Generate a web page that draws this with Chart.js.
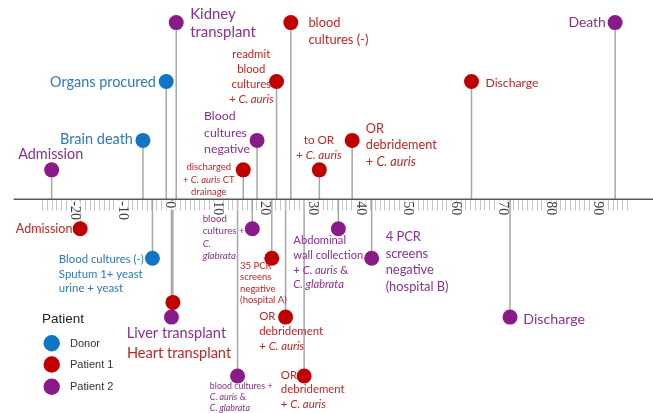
<!DOCTYPE html>
<html><head><meta charset="utf-8">
<script src="https://cdn.jsdelivr.net/npm/chart.js@4.4.1/dist/chart.umd.min.js"></script>
<style>html,body{margin:0;padding:0;background:#fff;overflow:hidden}</style>
</head><body>
<canvas id="c" width="653" height="413"></canvas>
<script>
// ---------- DATA ----------
const seriesNames = ["Donor", "Patient 1", "Patient 2"];
const legendTitle = "Patient";

const donorDays   = [-5.8, -0.9, -3.8];
const donorLevels = [2, 4, -2];
const donorEvents = [
  "Brain death",
  "Organs procured",
  "Blood cultures (-)\nSputum 1+ yeast\nurine + yeast"
];

const p1Days   = [-19, 0.5, 15.3, 22.3, 25.3, 31.3, 38.2, 63.3, 21.3, 24.2, 28.1];
const p1Levels = [-1, -3.5, 1, 4, 6, 1, 2, 4, -2, -4, -6];
const p1Events = [
  "Admission",
  "Heart transplant",
  "discharged\n+ *C. auris* CT\ndrainage",
  "readmit\nblood\ncultures\n+ *C. auris*",
  "blood\ncultures (-)",
  "to OR\n+ *C. auris*",
  "OR\ndebridement\n+ *C. auris*",
  "Discharge",
  "35 PCR\nscreens\nnegative\n(hospital A)",
  "OR\ndebridement\n+ *C. auris*",
  "OR\ndebridement\n+ *C. auris*"
];

const p2Days   = [-25, 1.2, 18.2, 93.5, 0.2, 17.2, 14.1, 35.3, 42.3, 71.4];
const p2Levels = [1, 6, 2, 6, -4, -1, -6, -1, -2, -4];
const p2Events = [
  "Admission",
  "Kidney\ntransplant",
  "Blood\ncultures\nnegative",
  "Death",
  "Liver transplant",
  "blood\ncultures +\n*C.*\n*glabrata*",
  "blood cultures +\n*C. auris* &\n*C. glabrata*",
  "Abdominal\nwall collection\n+ *C. auris* &\n*C. glabrata*",
  "4 PCR\nscreens\nnegative\n(hospital B)",
  "Discharge"
];

const tickLabels = [-20, -10, 0, 10, 20, 30, 40, 50, 60, 70, 80, 90];
const minorTickRange = [-27, 96];

// ---------- STYLE / LAYOUT (not data) ----------
const markerColors = ["#0F75C4", "#C00000", "#8B1A89"];
const textColors   = ["#2F78BA", "#C02525", "#8A3090"];
const FONT = "Lato, 'Open Sans', sans-serif";
// label placement relative to marker: a=align, dx/dy px offset of first line, lh=line height, w=widest line width
const labelLayout = [
  [ {a:'r',dx:-10,dy:-1.5,lh:15,w:73},
    {a:'r',dx:-10.3,dy:1,lh:15,w:106},
    {a:'l',dx:-93.6,dy:1.3,lh:14.5,w:85} ],
  [ {a:'r',dx:-7.7,dy:0,lh:15,w:56.7},
    {a:'l',dx:-46,dy:51.3,lh:15,w:104.3},
    {a:'c',dx:-34.5,dy:-2.7,lh:12.5,w:51.7},
    {a:'c',dx:-25.3,dy:-26.7,lh:14.7,w:44.7},
    {a:'l',dx:17.6,dy:0.3,lh:17,w:60},
    {a:'c',dx:-0.5,dy:-30,lh:15,w:45.7},
    {a:'l',dx:13.7,dy:-11.7,lh:16.7,w:71},
    {a:'l',dx:14,dy:1.6,lh:15,w:53},
    {a:'l',dx:-31.7,dy:7.7,lh:11.5,w:46.7},
    {a:'l',dx:-26.4,dy:-0.3,lh:15,w:64},
    {a:'l',dx:-23.3,dy:-1,lh:14.5,w:64} ],
  [ {a:'l',dx:-33.4,dy:-15,lh:15,w:65},
    {a:'l',dx:14,dy:-8.7,lh:18.5,w:65.7},
    {a:'l',dx:-53,dy:-24,lh:16.5,w:46},
    {a:'r',dx:-9.3,dy:0,lh:15,w:37.4},
    {a:'l',dx:-44.6,dy:16.3,lh:15,w:99.3},
    {a:'l',dx:-49.6,dy:-10.3,lh:12.5,w:42},
    {a:'l',dx:-27.7,dy:9.7,lh:11.3,w:62.7},
    {a:'l',dx:-45,dy:12,lh:14.7,w:70},
    {a:'l',dx:14,dy:-21.6,lh:16.8,w:63},
    {a:'l',dx:13.3,dy:2,lh:15,w:61.7} ]
];
const allEvents = [donorEvents, p1Events, p2Events];

function toPoints(days, levels){ return days.map((d,i)=>({x:d, y:levels[i]})); }

function segs(line){ return line.split('*').map((t,i)=>({t, it: i%2===1})).filter(s=>s.t.length); }
function lineWidth(ctx, line, size){
  let w = 0;
  segs(line).forEach(s=>{ ctx.font = (s.it?'italic ':'') + size + 'px ' + FONT; w += ctx.measureText(s.t).width; });
  return w;
}
function drawLine(ctx, line, x, y, size, align){
  const ss = segs(line);
  let tot = 0;
  ss.forEach(s=>{ ctx.font = (s.it?'italic ':'') + size + 'px ' + FONT; s.w = ctx.measureText(s.t).width; tot += s.w; });
  let sx = align==='l' ? x : (align==='r' ? x - tot : x - tot/2);
  ss.forEach(s=>{ ctx.font = (s.it?'italic ':'') + size + 'px ' + FONT; ctx.fillText(s.t, sx, y); sx += s.w; });
}

const timelinePlugin = {
  id: 'timeline',
  beforeDatasetsDraw(chart){
    const ctx = chart.ctx, xs = chart.scales.x, ys = chart.scales.y, ca = chart.chartArea;
    const y0 = ys.getPixelForValue(0);
    ctx.save();
    // stems
    ctx.strokeStyle = '#A6A6A6'; ctx.lineWidth = 1.5;
    chart.data.datasets.forEach(ds=>{
      ds.data.forEach(p=>{
        const px = xs.getPixelForValue(p.x), py = ys.getPixelForValue(p.y);
        ctx.beginPath(); ctx.moveTo(px, y0); ctx.lineTo(px, py); ctx.stroke();
      });
    });
    // minor ticks
    ctx.strokeStyle = '#C4C4C4'; ctx.lineWidth = 1;
    for (let d = minorTickRange[0]; d <= minorTickRange[1]; d++){
      const x = Math.round(xs.getPixelForValue(d)) + 0.5;
      ctx.beginPath(); ctx.moveTo(x, y0 + 1); ctx.lineTo(x, y0 + 11); ctx.stroke();
    }
    // axis line
    ctx.strokeStyle = '#595959'; ctx.lineWidth = 1.5;
    ctx.beginPath(); ctx.moveTo(xs.getPixelForValue(-33), y0); ctx.lineTo(ca.right, y0); ctx.stroke();
    // tick labels (rotated, reading downward)
    tickLabels.forEach(v=>{
      const x = xs.getPixelForValue(v);
      ctx.save();
      ctx.translate(x, y0 + 2);
      ctx.rotate(Math.PI/2);
      ctx.font = "14px 'Liberation Serif', serif";
      ctx.textAlign = 'left'; ctx.textBaseline = 'middle';
      const t = String(v), w = ctx.measureText(t).width;
      ctx.fillStyle = '#fff'; ctx.fillRect(0, -5, w + 1, 10);
      ctx.fillStyle = '#404040'; ctx.fillText(t, 0, 0.5);
      ctx.restore();
    });
    // event labels
    ctx.textBaseline = 'middle'; ctx.textAlign = 'left';
    chart.data.datasets.forEach((ds, si)=>{
      ctx.fillStyle = textColors[si];
      ds.data.forEach((p, i)=>{
        const L = labelLayout[si][i];
        const lines = allEvents[si][i].split('\n');
        let maxW = 0;
        lines.forEach(l=>{ maxW = Math.max(maxW, lineWidth(ctx, l, 10)); });
        const size = 10 * L.w / maxW;
        const px = xs.getPixelForValue(p.x) + L.dx, py = ys.getPixelForValue(p.y) + L.dy;
        lines.forEach((l, k)=> drawLine(ctx, l, px, py + k * L.lh, size, L.a));
      });
    });
    ctx.restore();
  },
  afterDraw(chart){
    const ctx = chart.ctx;
    ctx.save();
    ctx.textBaseline = 'middle'; ctx.textAlign = 'left';
    ctx.fillStyle = '#222';
    ctx.font = "13.5px 'Liberation Sans', Arial, sans-serif";
    ctx.fillText(legendTitle, 42, 319.5);
    const ys = [343.3, 364.5, 386.7];
    chart.data.datasets.forEach((ds, i)=>{
      ctx.fillStyle = ds.backgroundColor;
      ctx.beginPath(); ctx.arc(51.7, ys[i], 8.2, 0, Math.PI*2); ctx.fill();
      ctx.fillStyle = '#333';
      ctx.font = "11px 'Liberation Sans', Arial, sans-serif";
      ctx.fillText(ds.label, 70, ys[i] + 0.5);
    });
    ctx.restore();
  }
};

const mk = (i, days, levels) => ({
  label: seriesNames[i],
  data: toPoints(days, levels),
  backgroundColor: markerColors[i],
  borderWidth: 0,
  pointRadius: 7.5,
  pointHoverRadius: 7.5,
  showLine: false,
  clip: false
});

new Chart(document.getElementById('c'), {
  type: 'scatter',
  data: { datasets: [ mk(0, donorDays, donorLevels), mk(1, p1Days, p1Levels), mk(2, p2Days, p2Levels) ] },
  options: {
    responsive: false,
    animation: false,
    events: [],
    devicePixelRatio: 1,
    layout: { padding: 0, autoPadding: false },
    scales: {
      x: { type: 'linear', min: -35.86, max: 101.47, display: false },
      y: { type: 'linear', min: -7.256, max: 6.767, display: false }
    },
    plugins: { legend: { display: false }, tooltip: { enabled: false } }
  },
  plugins: [timelinePlugin]
});
</script>
</body></html>
